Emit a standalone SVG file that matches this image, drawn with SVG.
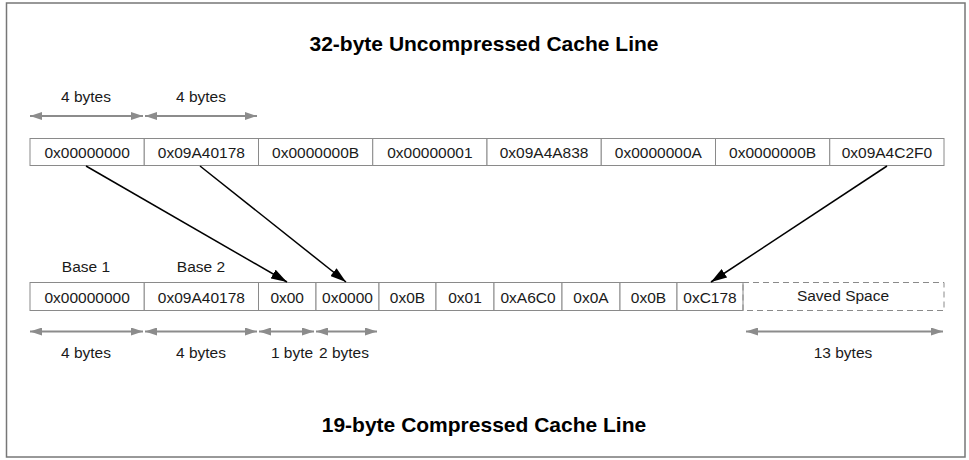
<svg xmlns="http://www.w3.org/2000/svg" width="969" height="460" viewBox="0 0 969 460">
<style>
  .cell { fill: #ffffff; stroke: #8a8a8a; stroke-width: 1; }
  .dash { fill: none; stroke: #8a8a8a; stroke-width: 1; stroke-dasharray: 6 4; }
  .t { font-family: "Liberation Sans", Arial, sans-serif; font-size: 15.5px; fill: #1a1a1a; text-anchor: middle; dominant-baseline: central; }
  .title { font-family: "Liberation Sans", Arial, sans-serif; font-size: 21px; font-weight: bold; fill: #000; text-anchor: middle; dominant-baseline: central; }
  .dim { stroke: #8c8c8c; stroke-width: 2; fill: none; marker-start: url(#ga); marker-end: url(#ga); }
  .link { stroke: #000; stroke-width: 1.5; fill: none; marker-end: url(#ba); }
</style>
<defs>
  <marker id="ga" viewBox="0 0 12 8" refX="12" refY="4" markerWidth="12" markerHeight="8" markerUnits="userSpaceOnUse" orient="auto-start-reverse">
    <path d="M0,0 L12,4 L0,8 Z" fill="#8c8c8c"/>
  </marker>
  <marker id="ba" viewBox="0 0 16 10" refX="16" refY="5" markerWidth="16" markerHeight="10" markerUnits="userSpaceOnUse" orient="auto">
    <path d="M0,0 L16,5 L0,10 Z" fill="#000"/>
  </marker>
</defs>
<rect x="0" y="0" width="969" height="460" fill="#ffffff"/>
<rect x="6.5" y="3" width="958.5" height="454" fill="none" stroke="#777" stroke-width="1.5"/>

<g id="title-top"><text class="title" x="484" y="43">32-byte Uncompressed Cache Line</text></g>
<g id="title-bottom"><text class="title" x="484" y="424">19-byte Compressed Cache Line</text></g>

<g id="top-dims">
  <line class="dim" x1="30" y1="116" x2="143" y2="116"/>
  <line class="dim" x1="145" y1="116" x2="257" y2="116"/>
  <text class="t" x="86" y="96">4 bytes</text>
  <text class="t" x="201" y="96">4 bytes</text>
</g>

<g id="uncompressed-line">
  <g id="u0"><rect class="cell" x="30" y="138.5" width="114.25" height="27"/><text class="t" x="87.1" y="152">0x00000000</text></g>
  <g id="u1"><rect class="cell" x="144.25" y="138.5" width="114.25" height="27"/><text class="t" x="201.4" y="152">0x09A40178</text></g>
  <g id="u2"><rect class="cell" x="258.5" y="138.5" width="114.25" height="27"/><text class="t" x="315.6" y="152">0x0000000B</text></g>
  <g id="u3"><rect class="cell" x="372.75" y="138.5" width="114.25" height="27"/><text class="t" x="429.9" y="152">0x00000001</text></g>
  <g id="u4"><rect class="cell" x="487" y="138.5" width="114.25" height="27"/><text class="t" x="544.1" y="152">0x09A4A838</text></g>
  <g id="u5"><rect class="cell" x="601.25" y="138.5" width="114.25" height="27"/><text class="t" x="658.4" y="152">0x0000000A</text></g>
  <g id="u6"><rect class="cell" x="715.5" y="138.5" width="114.25" height="27"/><text class="t" x="772.6" y="152">0x0000000B</text></g>
  <g id="u7"><rect class="cell" x="829.75" y="138.5" width="114.25" height="27"/><text class="t" x="886.9" y="152">0x09A4C2F0</text></g>
</g>

<g id="base-labels">
  <text class="t" x="86" y="266">Base 1</text>
  <text class="t" x="201" y="266">Base 2</text>
</g>

<g id="compressed-line">
  <g id="c0"><rect class="cell" x="30" y="282.5" width="114.25" height="28"/><text class="t" x="87.1" y="297">0x00000000</text></g>
  <g id="c1"><rect class="cell" x="144.25" y="282.5" width="114.25" height="28"/><text class="t" x="201.4" y="297">0x09A40178</text></g>
  <g id="c2"><rect class="cell" x="258.5" y="282.5" width="57.5" height="28"/><text class="t" x="287.2" y="297">0x00</text></g>
  <g id="c3"><rect class="cell" x="316" y="282.5" width="63" height="28"/><text class="t" x="347.5" y="297">0x0000</text></g>
  <g id="c4"><rect class="cell" x="379" y="282.5" width="57" height="28"/><text class="t" x="407.5" y="297">0x0B</text></g>
  <g id="c5"><rect class="cell" x="436" y="282.5" width="58" height="28"/><text class="t" x="465" y="297">0x01</text></g>
  <g id="c6"><rect class="cell" x="494" y="282.5" width="68" height="28"/><text class="t" x="528" y="297">0xA6C0</text></g>
  <g id="c7"><rect class="cell" x="562" y="282.5" width="58" height="28"/><text class="t" x="591" y="297">0x0A</text></g>
  <g id="c8"><rect class="cell" x="620" y="282.5" width="57" height="28"/><text class="t" x="648.5" y="297">0x0B</text></g>
  <g id="c9"><rect class="cell" x="677" y="282.5" width="66" height="28"/><text class="t" x="710" y="297">0xC178</text></g>
  <g id="saved"><rect class="dash" x="743" y="282.5" width="201" height="28"/><text class="t" x="843" y="295">Saved Space</text></g>
</g>

<g id="bottom-dims">
  <line class="dim" x1="30" y1="331.5" x2="143" y2="331.5"/>
  <line class="dim" x1="145" y1="331.5" x2="257" y2="331.5"/>
  <line class="dim" x1="259" y1="331.5" x2="314" y2="331.5"/>
  <line class="dim" x1="316" y1="331.5" x2="377" y2="331.5"/>
  <line class="dim" x1="746" y1="331.5" x2="943" y2="331.5"/>
  <text class="t" x="86" y="352">4 bytes</text>
  <text class="t" x="201" y="352">4 bytes</text>
  <text class="t" x="292" y="352">1 byte</text>
  <text class="t" x="344" y="352">2 bytes</text>
  <text class="t" x="843" y="352">13 bytes</text>
</g>

<g id="connectors">
  <line class="link" x1="86" y1="166" x2="287" y2="282"/>
  <line class="link" x1="200" y1="166" x2="346" y2="282"/>
  <line class="link" x1="887" y1="166" x2="711" y2="282"/>
</g>
</svg>
